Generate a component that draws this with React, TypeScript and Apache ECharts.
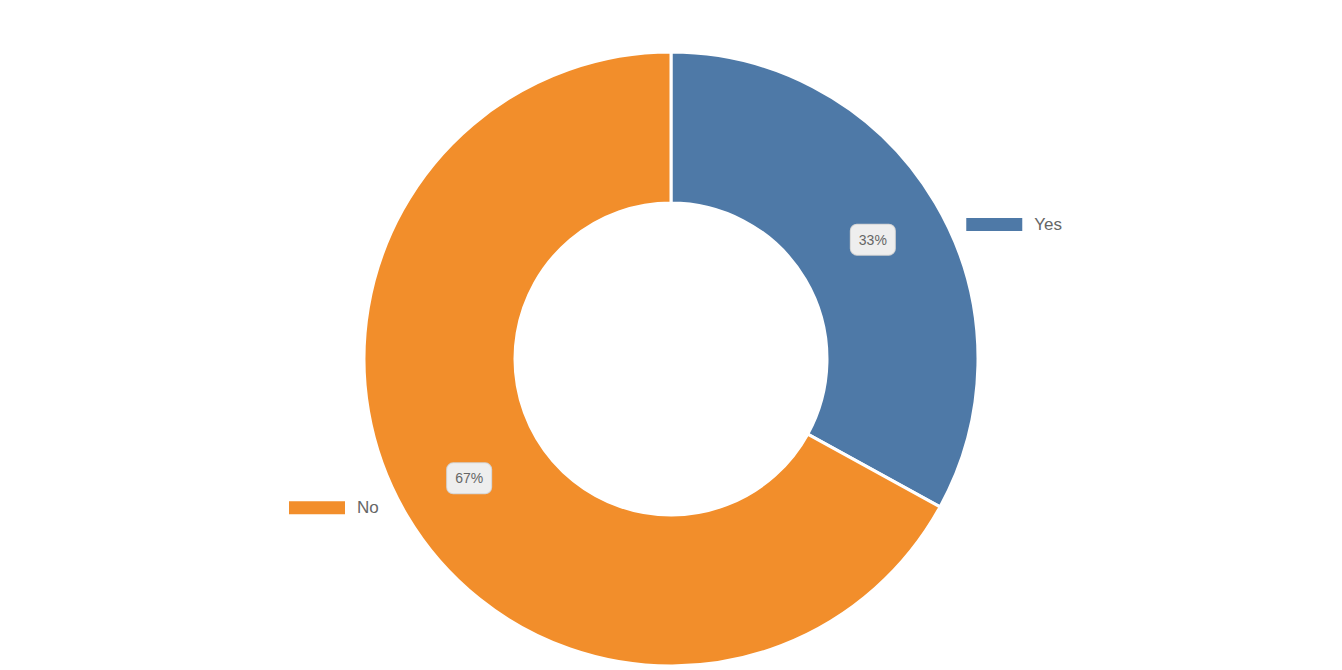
import React, { useEffect, useRef } from "react";
import * as echarts from "echarts";

const categories = ["Yes", "No"];
const values = [33, 67];
const colors = ["#4e79a7", "#f28e2b"];

export default function App() {
  const ref = useRef<HTMLDivElement>(null);
  useEffect(() => {
    document.body.style.margin = "0";
    const chart = echarts.init(ref.current!, null, { renderer: "svg" });
    const labelLens = [14, 42];
    const edgeDists = [280, 289];
    const rich: Record<string, any> = {
      name: { fontSize: 17, color: "#666", padding: [0, 0, 0, 12], fontFamily: "Liberation Sans, Arial, sans-serif" },
    };
    colors.forEach((c, i) => {
      rich["bar" + i] = { width: 56, height: 13, backgroundColor: c };
    });
    const mainData = categories.map((n, i) => ({ name: n, value: values[i], itemStyle: { color: colors[i] } }));
    const outerData = categories.map((n, i) => ({
      name: n,
      value: values[i],
      label: { edgeDistance: edgeDists[i] },
      labelLine: { show: false, length: labelLens[i], length2: 0 },
    }));
    chart.setOption({
      animation: false,
      series: [
        {
          type: "pie",
          silent: true,
          center: [671, 359],
          radius: [0, 250],
          startAngle: 90,
          clockwise: true,
          z: 1,
          itemStyle: { color: "transparent", borderWidth: 0 },
          emphasis: { disabled: true },
          data: outerData,
          label: {
            show: true,
            position: "outside",
            alignTo: "edge",
            edgeDistance: 284,
            formatter: (p: any) => `{bar${p.dataIndex}|}{name|${p.name}}`,
            rich,
          },
          labelLine: { show: false },
        },
        {
          type: "pie",
          center: [671, 359],
          radius: [156, 307],
          startAngle: 90,
          clockwise: true,
          z: 2,
          itemStyle: { borderColor: "#fff", borderWidth: 3 },
          data: mainData,
          label: {
            show: true,
            position: "inside",
            formatter: (p: any) => `${Math.round(p.percent)}%`,
            fontSize: 14,
            color: "#666",
            fontFamily: "Liberation Sans, Arial, sans-serif",
            backgroundColor: "#eeeeee",
            borderColor: "#d4d4d4",
            borderWidth: 1,
            borderRadius: 6,
            padding: [8, 8],
          },
          labelLine: { show: false },
        },
      ],
    });
    return () => chart.dispose();
  }, []);
  return <div ref={ref} style={{ width: 1342, height: 670 }} />;
}
